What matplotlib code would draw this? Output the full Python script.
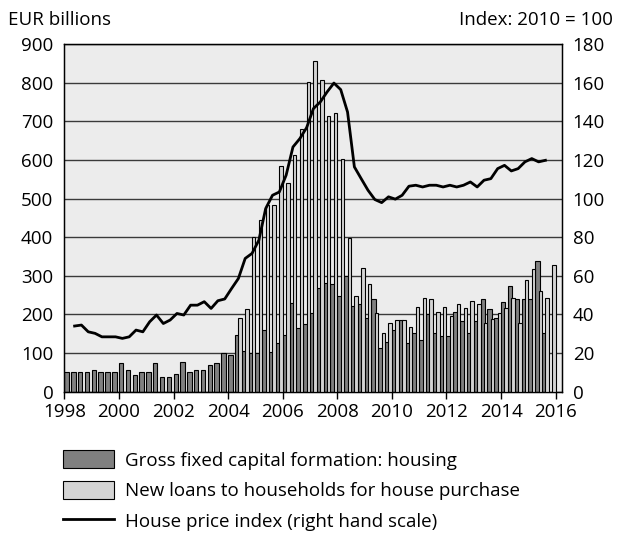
import numpy as np
import matplotlib
matplotlib.use("Agg")
import matplotlib.pyplot as plt
from matplotlib.patches import Patch
from matplotlib.lines import Line2D

plt.rcParams['font.family'] = ['Open Sans', 'DejaVu Sans']

# quarterly data, 1998Q1 .. 2015Q4
quarters = 1998 + np.arange(72) * 0.25

gfcf_housing = [52, 52, 52, 52, 56, 52, 52, 52, 73, 56, 43, 52, 52, 73, 39, 39,
                47, 78, 52, 56, 56, 69, 73, 99, 95,
                148, 105, 99, 99, 160, 103, 125, 147, 230, 164, 174, 203, 269, 282, 278, 247,
                299, 222, 226, 191, 239, 112, 129, 159, 185, 125, 151, 134, 200, 151, 144,
                144, 207, 183, 151, 183, 239, 213, 191, 233, 273, 239, 239, 239, 339, 151, np.nan]

new_loans = [np.nan] * 25 + [
    191, 213, 400, 444, 483, 483, 584, 539, 612, 680, 803, 856, 808, 713, 722, 603,
    399, 247, 321, 278, 204, 151, 177, 185, 185, 168, 220, 243, 239, 207, 220,
    196, 226, 217, 234, 226, 177, 187, 204, 216, 243, 177, 290, 317, 260, 243, 329]

# house price index, 1998Q2 .. 2015Q3 (2010 = 100)
hpi = [34.0, 34.5, 31.0, 30.2, 28.4, 28.4, 28.4, 27.6, 28.4, 31.9, 31.0, 36.2, 39.7,
       35.3, 37.1, 40.5, 39.7, 44.8, 44.8, 46.6, 43.1, 47.1, 48.0, 53.4, 58.6, 69.0,
       71.6, 78.4, 94.8, 101.7, 103.4, 112.1, 126.7, 131.0, 136.7, 146.6, 150.0, 155.2,
       159.8, 156.4, 144.8, 116.4, 110.3, 104.3, 99.5, 97.9, 100.9, 99.7, 101.7, 106.4,
       106.9, 106.0, 106.9, 106.9, 106.0, 106.9, 106.0, 106.9, 108.6, 106.0, 109.5,
       110.3, 115.5, 117.2, 114.3, 115.5, 119.0, 120.7, 119.0, 119.8]
hpi_x = quarters[1:1 + len(hpi)] + 0.125

dark = '#808080'
light = '#d4d4d4'

fig = plt.figure(figsize=(6.22, 5.34), dpi=100)
ax = fig.add_axes([0.1035, 0.2665, 0.7995, 0.651])
ax.set_facecolor('#ececec')

slot = 0.25
ax.bar(quarters, gfcf_housing, width=slot * 0.64, align='edge', color=dark,
       edgecolor='black', linewidth=0.8, zorder=2)
ax.bar(quarters + slot * 0.5, new_loans, width=slot * 0.5, align='edge', color=light,
       edgecolor='black', linewidth=0.8, zorder=3)

ax.set_xlim(1998, 2016.22)
ax.set_ylim(0, 900)
ax.set_yticks(range(0, 901, 100))
ax.set_xticks(range(1998, 2017, 2))
ax.yaxis.grid(True, color='#3a3a3a', linewidth=1.0, zorder=1)
ax.set_axisbelow(True)
ax.tick_params(axis='x', direction='out', length=5, width=1, labelsize=13.5, pad=3)
ax.tick_params(axis='y', length=0, labelsize=13.5, pad=8)
for s in ax.spines.values():
    s.set_linewidth(1.0)

ax2 = ax.twinx()
ax2.plot(hpi_x, hpi, color='black', linewidth=2.0, zorder=5)
ax2.set_ylim(0, 180)
ax2.set_yticks(range(0, 181, 20))
ax2.tick_params(axis='y', length=0, labelsize=13.5, pad=8)

fig.text(0.013, 0.962, 'EUR billions', fontsize=13.5, ha='left', va='center')
fig.text(0.985, 0.962, 'Index: 2010 = 100', fontsize=13.5, ha='right', va='center')

handles = [Patch(facecolor=dark, edgecolor='black', linewidth=0.8),
           Patch(facecolor=light, edgecolor='black', linewidth=0.8),
           Line2D([], [], color='black', linewidth=2.0)]
labels = ['Gross fixed capital formation: housing',
          'New loans to households for house purchase',
          'House price index (right hand scale)']
fig.legend(handles, labels, loc='upper left', bbox_to_anchor=(0.09, 0.171),
           frameon=False, fontsize=13.5, handlelength=2.7, handleheight=1.1,
           handletextpad=0.6, labelspacing=0.6, borderaxespad=0)

fig.savefig('out.png', dpi=100)
